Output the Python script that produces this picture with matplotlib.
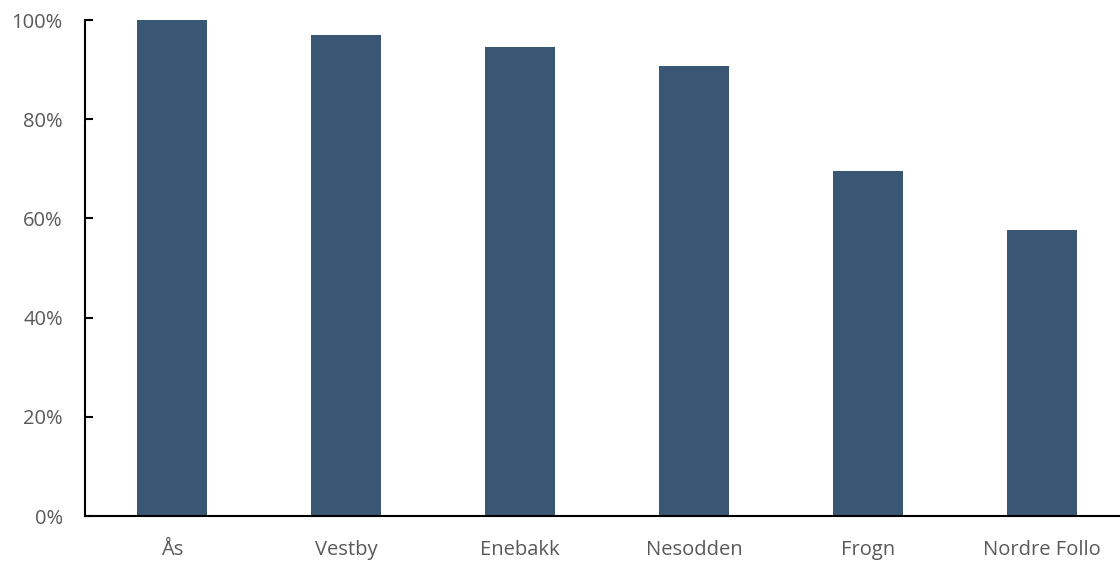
import matplotlib.pyplot as plt
from matplotlib.ticker import PercentFormatter

kommuner = ['Ås', 'Vestby', 'Enebakk', 'Nesodden', 'Frogn', 'Nordre Follo']
andel = [100.0, 97.0, 94.6, 90.7, 69.6, 57.7]
yticks = [0, 20, 40, 60, 80, 100]

plt.rcParams['font.family'] = ['Open Sans', 'DejaVu Sans']

fig = plt.figure(figsize=(11.2, 5.61), dpi=100)
ax = fig.add_axes([85 / 1120, 45 / 561, 1 - 85 / 1120, 496 / 561])

ax.bar(range(len(kommuner)), andel, width=0.40, color='#3A5675')

ax.set_xlim(-0.5, 5.45)
ax.set_ylim(0, 100)
ax.set_yticks(yticks)
ax.yaxis.set_major_formatter(PercentFormatter(decimals=0))
ax.set_xticks(range(len(kommuner)))
ax.set_xticklabels(kommuner)

for side in ['top', 'right']:
    ax.spines[side].set_visible(False)
ax.spines['left'].set_linewidth(1.5)
ax.spines['bottom'].set_linewidth(1.5)
ax.tick_params(axis='y', direction='in', length=6, width=1.5, pad=16,
               labelsize=14.5, labelcolor='#595959')
ax.tick_params(axis='x', length=0, pad=17, labelsize=14.5, labelcolor='#595959')

plt.savefig('out.png', dpi=100)
